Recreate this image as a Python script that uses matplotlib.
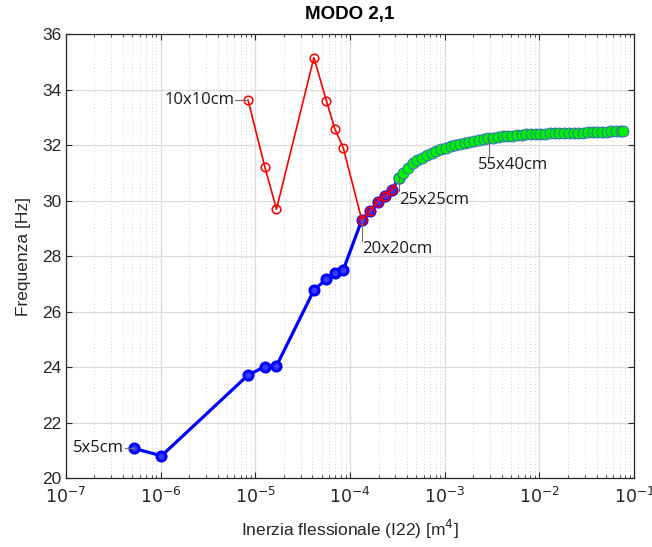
import matplotlib.pyplot as plt
from matplotlib.lines import Line2D
from matplotlib.transforms import IdentityTransform
from matplotlib.ticker import LogLocator, NullFormatter, FixedLocator

# sezioni quadrate crescenti (ramo blu)
I_blu = [5.21e-7, 1.02e-6, 8.37e-6, 1.256e-5, 1.67e-5, 4.15e-5, 5.61e-5,
         6.9e-5, 8.47e-5, 1.33e-4, 1.62e-4, 1.95e-4, 2.33e-4, 2.76e-4, 3.26e-4]
f_blu = [21.07, 20.80, 23.71, 24.01, 24.04, 26.77, 27.17,
         27.40, 27.50, 29.30, 29.62, 29.95, 30.18, 30.38, 30.80]

# ramo rosso da 10x10 a 25x25
I_rosso = [8.37e-6, 1.256e-5, 1.67e-5, 4.15e-5, 5.61e-5, 6.9e-5, 8.47e-5,
           1.33e-4, 1.62e-4, 1.95e-4, 2.33e-4, 2.76e-4, 3.26e-4]
f_rosso = [33.62, 31.22, 29.69, 35.15, 33.60, 32.58, 31.90,
           29.30, 29.62, 29.95, 30.18, 30.38, 30.80]

# ramo verde da 25x25 in su
I_verde = [3.26e-4, 3.63e-4, 4.07e-4, 4.57e-4, 5.13e-4, 5.75e-4, 6.46e-4,
           7.24e-4, 8.13e-4, 9.12e-4, 1.02e-3, 1.15e-3, 1.29e-3, 1.45e-3,
           1.62e-3, 1.82e-3, 2.04e-3, 2.29e-3, 2.57e-3, 2.88e-3, 3.24e-3,
           3.63e-3, 4.07e-3, 4.57e-3, 5.13e-3, 5.75e-3, 6.46e-3, 7.24e-3,
           8.13e-3, 9.12e-3, 1.02e-2, 1.15e-2, 1.29e-2, 1.45e-2, 1.62e-2,
           1.82e-2, 2.04e-2, 2.29e-2, 2.57e-2, 2.88e-2, 3.24e-2, 3.63e-2,
           4.07e-2, 4.57e-2, 5.13e-2, 5.75e-2, 6.46e-2, 7.24e-2, 7.66e-2]
f_verde = [30.80, 31.00, 31.18, 31.34, 31.45, 31.55, 31.63,
           31.71, 31.79, 31.85, 31.89, 31.95, 32.00, 32.04,
           32.08, 32.12, 32.16, 32.19, 32.22, 32.25, 32.27,
           32.29, 32.31, 32.33, 32.34, 32.35, 32.37, 32.38,
           32.39, 32.40, 32.40, 32.41, 32.42, 32.42, 32.43,
           32.43, 32.44, 32.44, 32.45, 32.45, 32.46, 32.47,
           32.47, 32.48, 32.48, 32.49, 32.50, 32.50, 32.51]

# etichette: testo, I, f
etichette = [('5x5cm', 5.21e-7, 21.07),
             ('10x10cm', 8.37e-6, 33.62),
             ('20x20cm', 1.33e-4, 29.30),
             ('25x25cm', 3.26e-4, 30.80),
             ('55x40cm', 2.93e-3, 32.26)]
# fine della linea di richiamo (px), offset del testo (pt), allineamento
pos_etichette = [((-9, 0), (-7, 0), 'right', 'center'),
                 ((-13, 0), (-10, 0), 'right', 'center'),
                 ((0, -21), (0, -15.5), 'left', 'top'),
                 ((0, -13), (0, -9.5), 'left', 'top'),
                 ((0, -20), (-8, -14), 'left', 'top')]

plt.rcParams['font.family'] = ['Liberation Sans', 'DejaVu Sans']

fig = plt.figure(figsize=(6.52, 5.47), dpi=100)
ax = fig.add_axes([0.1012, 0.1261, 0.8715, 0.8117])

ax.plot(I_blu, f_blu, '-o', color='#0000ff', lw=2.3, ms=6.5, mew=2.2,
        mfc='#3a3aff', zorder=3)
ax.plot(I_rosso, f_rosso, '-o', color='#ff0000', lw=1.2, ms=6.2, mew=1.1,
        mfc='none', zorder=4)
ax.plot(I_verde, f_verde, 'o', color='#00f000', ms=8, mew=0.5,
        mec='#4040ff', mfc='#00f000', zorder=5)

ax.set_xscale('log')
ax.set_xlim(1e-7, 1e-1)
ax.set_ylim(20, 36)

for (testo, xi, yi), (linea, off, ha, va) in zip(etichette, pos_etichette):
    # linea di richiamo, in pixel
    px, py = ax.transData.transform((xi, yi))
    fig.add_artist(Line2D([px, px + linea[0]], [py, py + linea[1]],
                          transform=IdentityTransform(), color='#707070',
                          lw=0.8, zorder=2.5))
    ax.annotate(testo, (xi, yi), xytext=off, textcoords='offset points',
                ha=ha, va=va, fontsize=12, family='Open Sans',
                color='#1a1a1a', zorder=6)

ax.xaxis.set_major_locator(FixedLocator([1e-7, 1e-6, 1e-5, 1e-4, 1e-3, 1e-2, 1e-1]))
ax.xaxis.set_minor_locator(LogLocator(base=10, subs=range(2, 10), numticks=20))
ax.xaxis.set_minor_formatter(NullFormatter())
ax.set_xticklabels(['$10^{-7}$', '$10^{-6}$', '$10^{-5}$', '$10^{-4}$',
                    '$10^{-3}$', '$10^{-2}$', '$10^{-1}$'])
ax.yaxis.set_major_locator(FixedLocator(range(20, 37, 2)))

ax.grid(True, which='major', color='#dcdcdc', lw=0.9)
ax.grid(True, which='minor', axis='x', color='#c4c4c4', lw=0.6, ls=(0, (1, 3)))
ax.set_axisbelow(True)

ax.tick_params(which='both', direction='in', top=True, right=True,
               colors='#262626', labelsize=12.5, labelcolor='#262626')
ax.tick_params(which='major', length=4, width=0.8)
ax.tick_params(which='minor', length=2.5, width=0.6)
ax.tick_params(axis='x', pad=6)
for s in ax.spines.values():
    s.set_color('#262626')
    s.set_linewidth(0.9)

ax.set_title('MODO 2,1', fontsize=13.5, fontweight='bold', pad=11)
ax.set_xlabel('Inerzia flessionale (I22) [m$^4$]', fontsize=12.5,
              color='#262626', labelpad=8)
ax.set_ylabel('Frequenza [Hz]', fontsize=12.5, color='#262626', labelpad=8)

fig.savefig('out.png', dpi=100)
